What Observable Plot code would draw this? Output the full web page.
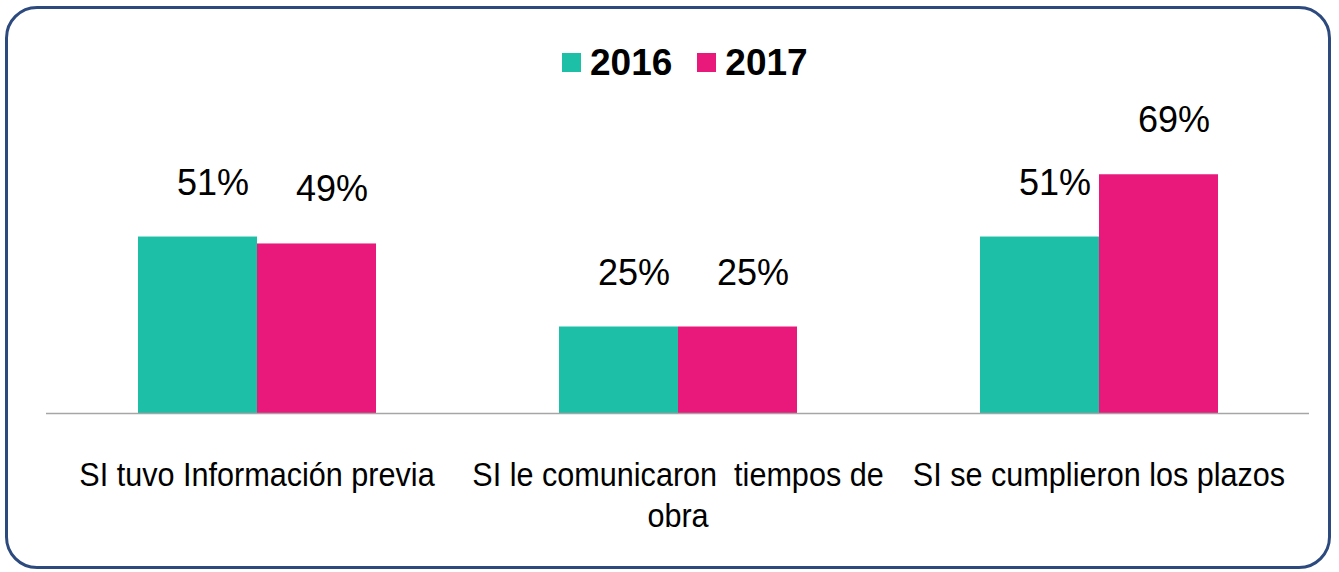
<!DOCTYPE html>
<html><head><meta charset="utf-8">
<script src="https://cdn.jsdelivr.net/npm/d3@7"></script>
<script src="https://cdn.jsdelivr.net/npm/@observablehq/plot@0.6"></script>
<style>
body{margin:0;background:#fff;}
#wrap{position:relative;width:1339px;height:572px;overflow:hidden;background:#fff;}
#frame{position:absolute;left:5px;top:6px;width:1320px;height:557px;border:3px solid #2d4a7f;border-radius:32px;pointer-events:none;}
#chart{position:absolute;left:0;top:0;}
#legend{position:absolute;left:562px;top:44px;display:flex;align-items:center;font-family:"Liberation Sans",Arial,sans-serif;font-weight:bold;font-size:37px;line-height:37px;color:#000;}
#legend .sw{width:19px;height:19px;margin-right:9px;display:inline-block;}
#legend .item{display:flex;align-items:center;margin-right:25px;}
</style>
</head><body>
<div id="wrap"><div id="chart"></div><div id="legend"></div><div id="frame"></div></div>
<script>
const categories = ["SI tuvo Información previa", "SI le comunicaron  tiempos de obra", "SI se cumplieron los plazos"];
const categoryLabels = ["SI tuvo Información previa", "SI le comunicaron  tiempos de\nobra", "SI se cumplieron los plazos"];
const years = ["2016", "2017"];
const values2016 = [51, 25, 51];
const values2017 = [49, 25, 69];
const colors = ["#1dbfa7", "#e9197b"];

const data = categories.flatMap((c, i) => [
  {category: c, year: years[0], value: values2016[i]},
  {category: c, year: years[1], value: values2017[i]}
]);
const catData = categories.map((c, i) => ({category: c, label: categoryLabels[i]}));

const plot = Plot.plot({
  width: 1339, height: 572,
  marginLeft: 45, marginRight: 29, marginTop: 67, marginBottom: 159,
  style: {background: "transparent"},
  fx: {domain: categories, padding: 0, axis: null, label: null},
  x: {domain: years, paddingInner: 0, paddingOuter: 0.757, axis: null},
  y: {domain: [0, 100], axis: null},
  color: {domain: years, range: colors},
  marks: [
    Plot.barY(data, {fx: "category", x: "year", y: "value", fill: "year"}),
    Plot.ruleY([0], {stroke: "#a6a6a6", strokeWidth: 1.5}),
    Plot.text(data, {fx: "category", x: "year", y: "value", text: d => d.value + "%", dy: -54, dx: 15,
      fontSize: 36, fontFamily: "'Liberation Sans', Arial, sans-serif", fill: "#000"}),
    Plot.text(catData, {fx: "category", text: "label", frameAnchor: "bottom", lineAnchor: "top", dy: 44,
      lineHeight: 1.2, fontSize: 34, fontFamily: "'Liberation Sans', Arial, sans-serif", fill: "#000",
      className: "catlabel"})
  ]
});
document.getElementById("chart").appendChild(plot);

// narrow the category labels (Arial Narrow look)
plot.querySelectorAll(".catlabel text").forEach(t => {
  const tr = t.getAttribute("transform") || "";
  t.setAttribute("transform", tr + " scale(0.9,1)");
});

const cs = plot.scale("color");
const leg = document.getElementById("legend");
cs.domain.forEach((d, i) => {
  const item = document.createElement("span");
  item.className = "item";
  const sw = document.createElement("span");
  sw.className = "sw";
  sw.style.background = cs.range[i];
  item.appendChild(sw);
  item.appendChild(document.createTextNode(d));
  leg.appendChild(item);
});
</script>
</body></html>
